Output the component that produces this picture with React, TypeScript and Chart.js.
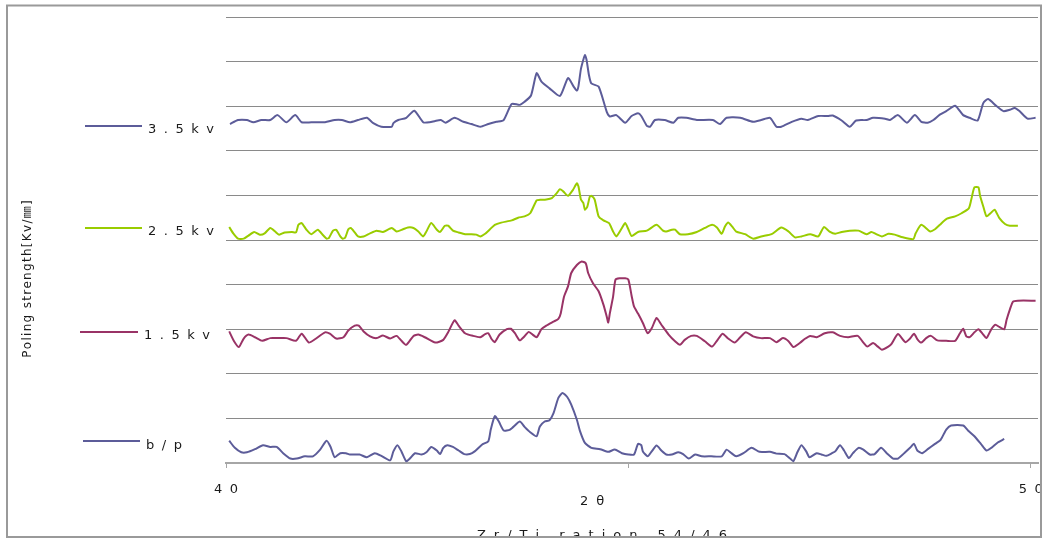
import React, { useEffect, useRef } from 'react';
import { Chart, registerables } from 'chart.js';

Chart.register(...registerables);

// ---- data ----
const xTickValues = [40, 45, 50];
const xTickLabels = ['40', '', '50'];
const seriesLabels = ['3.5kv', '2.5kv', '1.5kv', 'b/p'];
const xAxisTitle = '2θ';
const yAxisTitle = 'Poling strength[Kv/㎜]';
const bottomTitle = 'Zr/Ti ration 54/46';

const kv35: number[][] = [
  [40.05,7.60],[40.15,7.69],[40.26,7.69],[40.34,7.64],[40.44,7.69],[40.55,7.69],[40.64,7.80],[40.75,7.64],[40.86,7.80],[40.94,7.64],
  [41.06,7.64],[41.23,7.64],[41.35,7.69],[41.44,7.69],[41.54,7.64],[41.64,7.69],[41.75,7.74],[41.83,7.62],[41.93,7.54],[42.06,7.54],
  [42.08,7.62],[42.14,7.69],[42.24,7.74],[42.34,7.90],[42.45,7.64],[42.53,7.64],[42.60,7.67],[42.67,7.69],[42.73,7.63],[42.84,7.74],
  [42.95,7.65],[43.05,7.60],[43.16,7.54],[43.26,7.60],[43.36,7.65],[43.45,7.69],[43.55,8.05],[43.65,8.03],[43.71,8.10],[43.79,8.24],
  [43.86,8.74],[43.92,8.55],[44.02,8.40],[44.15,8.23],[44.25,8.63],[44.32,8.44],[44.36,8.35],[44.38,8.45],[44.41,8.83],[44.44,9.04],
  [44.46,9.15],[44.48,9.04],[44.51,8.70],[44.54,8.51],[44.63,8.44],[44.73,7.88],[44.77,7.77],[44.85,7.80],[44.96,7.63],[45.04,7.78],
  [45.12,7.84],[45.16,7.78],[45.23,7.56],[45.27,7.54],[45.33,7.69],[45.45,7.69],[45.56,7.63],[45.62,7.74],[45.72,7.74],[45.85,7.69],
  [46.05,7.69],[46.14,7.60],[46.22,7.74],[46.39,7.74],[46.55,7.65],[46.65,7.69],[46.76,7.74],[46.84,7.54],[46.90,7.54],[47.03,7.65],
  [47.15,7.72],[47.23,7.69],[47.36,7.78],[47.48,7.78],[47.54,7.79],[47.65,7.68],[47.75,7.54],[47.83,7.68],[47.96,7.69],[48.04,7.74],
  [48.19,7.72],[48.25,7.69],[48.35,7.80],[48.46,7.63],[48.56,7.80],[48.64,7.65],[48.72,7.63],[48.79,7.69],[48.87,7.81],[48.95,7.89],
  [49.06,8.01],[49.16,7.80],[49.24,7.74],[49.34,7.68],[49.41,8.07],[49.47,8.16],[49.57,8.01],[49.66,7.89],[49.74,7.92],[49.80,7.96],
  [49.86,7.89],[49.96,7.72],[50.06,7.74]
];

const kv25: number[][] = [
  [40.04,5.29],[40.09,5.15],[40.15,5.03],[40.22,5.03],[40.28,5.10],[40.35,5.18],[40.42,5.12],[40.48,5.15],[40.55,5.27],[40.61,5.19],
  [40.66,5.12],[40.73,5.17],[40.82,5.18],[40.87,5.17],[40.90,5.34],[40.94,5.38],[41.00,5.23],[41.06,5.13],[41.14,5.23],[41.21,5.10],
  [41.25,5.03],[41.28,5.05],[41.33,5.21],[41.37,5.23],[41.42,5.08],[41.45,5.03],[41.48,5.05],[41.52,5.24],[41.55,5.27],[41.60,5.17],
  [41.64,5.08],[41.71,5.08],[41.79,5.15],[41.87,5.21],[41.95,5.18],[42.06,5.27],[42.12,5.19],[42.20,5.24],[42.26,5.28],[42.33,5.27],
  [42.39,5.19],[42.45,5.08],[42.49,5.19],[42.55,5.38],[42.62,5.23],[42.66,5.18],[42.72,5.32],[42.76,5.32],[42.82,5.21],[42.89,5.17],
  [42.97,5.13],[43.05,5.13],[43.11,5.12],[43.16,5.08],[43.22,5.14],[43.28,5.24],[43.34,5.34],[43.42,5.39],[43.55,5.44],[43.63,5.50],
  [43.71,5.53],[43.78,5.60],[43.86,5.89],[43.90,5.90],[43.98,5.91],[44.05,5.94],[44.11,6.05],[44.15,6.14],[44.19,6.09],[44.25,5.99],
  [44.31,6.12],[44.36,6.27],[44.38,6.20],[44.41,5.91],[44.44,5.83],[44.46,5.68],[44.49,5.75],[44.52,5.97],[44.54,5.99],[44.58,5.91],
  [44.63,5.53],[44.69,5.44],[44.76,5.38],[44.81,5.19],[44.85,5.08],[44.92,5.27],[44.96,5.38],[45.00,5.24],[45.04,5.09],[45.12,5.18],
  [45.23,5.21],[45.35,5.34],[45.43,5.21],[45.47,5.19],[45.54,5.23],[45.58,5.23],[45.64,5.13],[45.74,5.13],[45.85,5.18],[45.95,5.27],
  [46.04,5.34],[46.10,5.28],[46.16,5.14],[46.20,5.30],[46.24,5.39],[46.29,5.30],[46.34,5.19],[46.45,5.13],[46.55,5.03],[46.65,5.08],
  [46.78,5.13],[46.90,5.28],[46.99,5.19],[47.07,5.06],[47.15,5.08],[47.26,5.13],[47.36,5.08],[47.43,5.29],[47.50,5.19],[47.57,5.14],
  [47.65,5.18],[47.75,5.21],[47.86,5.21],[47.96,5.13],[48.02,5.18],[48.08,5.13],[48.15,5.08],[48.23,5.14],[48.31,5.12],[48.41,5.06],
  [48.54,5.02],[48.57,5.15],[48.64,5.34],[48.75,5.19],[48.81,5.24],[48.87,5.34],[48.95,5.47],[49.06,5.53],[49.14,5.60],[49.23,5.71],
  [49.26,5.90],[49.30,6.18],[49.35,6.18],[49.37,5.99],[49.41,5.75],[49.45,5.53],[49.50,5.60],[49.55,5.68],[49.61,5.49],[49.68,5.36],
  [49.74,5.32],[49.84,5.32]
];

const kv15: number[][] = [
  [40.04,2.95],[40.10,2.73],[40.16,2.60],[40.22,2.79],[40.28,2.88],[40.36,2.82],[40.45,2.74],[40.55,2.80],[40.65,2.80],[40.75,2.80],
  [40.87,2.74],[40.94,2.90],[41.03,2.70],[41.11,2.78],[41.23,2.93],[41.29,2.90],[41.37,2.79],[41.46,2.82],[41.52,2.97],[41.60,3.08],
  [41.65,3.08],[41.71,2.95],[41.79,2.84],[41.87,2.80],[41.95,2.86],[42.04,2.79],[42.12,2.85],[42.18,2.74],[42.24,2.65],[42.33,2.85],
  [42.39,2.88],[42.47,2.82],[42.60,2.70],[42.70,2.76],[42.76,2.93],[42.84,3.20],[42.89,3.08],[42.97,2.91],[43.07,2.85],[43.16,2.82],
  [43.22,2.89],[43.26,2.91],[43.30,2.78],[43.34,2.71],[43.40,2.88],[43.49,3.00],[43.54,3.01],[43.59,2.91],[43.65,2.75],[43.71,2.84],
  [43.76,2.94],[43.81,2.88],[43.86,2.82],[43.92,3.00],[43.98,3.08],[44.07,3.17],[44.13,3.23],[44.16,3.36],[44.20,3.73],[44.25,3.96],
  [44.29,4.26],[44.36,4.44],[44.42,4.52],[44.47,4.48],[44.50,4.26],[44.56,4.03],[44.63,3.85],[44.69,3.55],[44.73,3.29],[44.75,3.15],
  [44.77,3.36],[44.81,3.73],[44.84,4.11],[44.89,4.14],[44.96,4.14],[45.00,4.11],[45.04,3.75],[45.07,3.51],[45.12,3.35],[45.18,3.14],
  [45.24,2.91],[45.29,3.02],[45.35,3.25],[45.41,3.10],[45.50,2.88],[45.58,2.73],[45.64,2.65],[45.70,2.76],[45.78,2.85],[45.85,2.85],
  [45.95,2.73],[46.04,2.61],[46.10,2.74],[46.17,2.90],[46.24,2.79],[46.32,2.70],[46.39,2.82],[46.46,2.93],[46.55,2.84],[46.65,2.80],
  [46.76,2.80],[46.84,2.71],[46.92,2.80],[46.99,2.73],[47.05,2.60],[47.13,2.69],[47.19,2.78],[47.26,2.85],[47.34,2.82],[47.44,2.91],
  [47.54,2.93],[47.63,2.85],[47.73,2.82],[47.85,2.85],[47.92,2.70],[47.97,2.61],[48.04,2.69],[48.10,2.61],[48.15,2.54],[48.23,2.61],
  [48.27,2.67],[48.35,2.89],[48.44,2.71],[48.50,2.79],[48.55,2.90],[48.59,2.78],[48.64,2.70],[48.70,2.80],[48.76,2.85],[48.84,2.75],
  [48.95,2.74],[49.06,2.74],[49.12,2.91],[49.16,3.01],[49.20,2.84],[49.24,2.82],[49.30,2.93],[49.35,3.00],[49.40,2.90],[49.45,2.80],
  [49.51,3.00],[49.56,3.10],[49.61,3.05],[49.67,3.00],[49.70,3.21],[49.74,3.44],[49.78,3.62],[49.84,3.64],[50.06,3.64]
];

const bp: number[][] = [
  [40.04,0.50],[40.11,0.34],[40.19,0.24],[40.26,0.24],[40.36,0.31],[40.46,0.40],[40.55,0.36],[40.63,0.36],[40.71,0.22],[40.80,0.10],
  [40.88,0.10],[40.98,0.15],[41.08,0.15],[41.17,0.30],[41.25,0.50],[41.30,0.36],[41.35,0.13],[41.42,0.22],[41.49,0.22],[41.54,0.19],
  [41.66,0.19],[41.75,0.13],[41.85,0.22],[41.93,0.16],[42.04,0.06],[42.08,0.26],[42.13,0.40],[42.18,0.26],[42.24,0.04],[42.29,0.11],
  [42.35,0.22],[42.43,0.19],[42.49,0.24],[42.55,0.36],[42.62,0.28],[42.66,0.20],[42.70,0.34],[42.75,0.40],[42.82,0.36],[42.89,0.28],
  [42.96,0.20],[43.03,0.20],[43.09,0.26],[43.18,0.41],[43.26,0.49],[43.29,0.75],[43.34,1.05],[43.39,0.93],[43.45,0.73],[43.53,0.75],
  [43.65,0.93],[43.71,0.81],[43.78,0.69],[43.86,0.60],[43.90,0.82],[43.96,0.93],[44.02,0.96],[44.07,1.12],[44.13,1.46],[44.18,1.57],
  [44.24,1.48],[44.29,1.31],[44.36,0.97],[44.40,0.71],[44.46,0.45],[44.54,0.34],[44.65,0.31],[44.75,0.25],[44.83,0.30],[44.92,0.22],
  [45.00,0.19],[45.07,0.19],[45.12,0.43],[45.16,0.40],[45.18,0.26],[45.24,0.15],[45.29,0.26],[45.35,0.39],[45.41,0.28],[45.47,0.19],
  [45.54,0.19],[45.62,0.24],[45.68,0.20],[45.75,0.10],[45.83,0.19],[45.91,0.15],[46.03,0.15],[46.16,0.15],[46.22,0.30],[46.28,0.22],
  [46.34,0.15],[46.43,0.22],[46.53,0.34],[46.63,0.25],[46.76,0.25],[46.84,0.21],[46.94,0.20],[47.01,0.10],[47.05,0.04],[47.10,0.24],
  [47.15,0.40],[47.21,0.26],[47.25,0.13],[47.34,0.22],[47.40,0.19],[47.46,0.16],[47.53,0.22],[47.57,0.26],[47.63,0.40],[47.68,0.28],
  [47.74,0.11],[47.79,0.22],[47.86,0.34],[47.92,0.30],[48.00,0.19],[48.06,0.20],[48.14,0.34],[48.21,0.22],[48.29,0.10],[48.35,0.10],
  [48.44,0.24],[48.50,0.34],[48.55,0.43],[48.59,0.28],[48.65,0.22],[48.72,0.31],[48.81,0.43],[48.88,0.52],[48.95,0.75],[49.01,0.84],
  [49.16,0.84],[49.22,0.73],[49.30,0.60],[49.38,0.43],[49.45,0.28],[49.51,0.34],[49.59,0.46],[49.67,0.54]
];

const seriesData = [kv35, kv25, kv15, bp];
const seriesColors = ['#5c5c99', '#99cc00', '#993366', '#5c5c99'];

// ---- helpers ----
function drawSpaced(ctx: CanvasRenderingContext2D, text: string, x: number, y: number, spacing: number, align: 'left' | 'center' | 'right') {
  const chars = Array.from(text);
  const widths = chars.map((c) => ctx.measureText(c).width);
  const total = widths.reduce((a, b) => a + b, 0) + spacing * (chars.length - 1);
  let cx = align === 'center' ? x - total / 2 : align === 'right' ? x - total : x;
  ctx.textAlign = 'left';
  chars.forEach((c, i) => {
    ctx.fillText(c, cx, y);
    cx += widths[i] + spacing;
  });
}

const FONT = '"DejaVu Sans", "Noto Sans CJK KR", sans-serif';
const TEXT_COLOR = '#1a1a1a';

// legend layout: [lineStartX, lineEndX, lineY, textX, textY]
const legendLayout = [
  [85, 142, 126, 148, 130],
  [85, 142, 228, 148, 232],
  [80, 138, 332, 144, 336],
  [83, 140, 441, 146, 446],
];

const decorPlugin = {
  id: 'decor',
  beforeDraw(chart: any) {
    const { ctx, width, height } = chart;
    ctx.save();
    ctx.fillStyle = '#ffffff';
    ctx.fillRect(0, 0, width, height);
    ctx.restore();
  },
  afterDraw(chart: any) {
    const { ctx, width, height } = chart;
    const xs = chart.scales.x;
    ctx.save();
    ctx.fillStyle = TEXT_COLOR;
    ctx.textBaseline = 'middle';
    ctx.font = `13px ${FONT}`;
    // x tick labels
    xTickValues.forEach((v, i) => {
      const lbl = xTickLabels[i];
      if (!lbl) return;
      drawSpaced(ctx, lbl, xs.getPixelForValue(v), 490, 7.5, 'center');
    });
    // x axis title
    drawSpaced(ctx, xAxisTitle, 592, 502, 8, 'center');
    // bottom title
    ctx.textBaseline = 'alphabetic';
    drawSpaced(ctx, bottomTitle, 602, 539, 8, 'center');
    // y axis title
    ctx.save();
    ctx.translate(28, 279);
    ctx.rotate(-Math.PI / 2);
    ctx.textBaseline = 'middle';
    ctx.font = `12px ${FONT}`;
    drawSpaced(ctx, yAxisTitle, 0, 0, 1.3, 'center');
    ctx.restore();
    // legend
    ctx.textBaseline = 'middle';
    ctx.font = `13px ${FONT}`;
    chart.data.datasets.forEach((ds: any, i: number) => {
      const [x1, x2, ly, tx, ty] = legendLayout[i];
      ctx.strokeStyle = ds.borderColor;
      ctx.lineWidth = 2;
      ctx.beginPath();
      ctx.moveTo(x1, ly);
      ctx.lineTo(x2, ly);
      ctx.stroke();
      ctx.fillStyle = TEXT_COLOR;
      drawSpaced(ctx, ds.label, tx, ty, 7.5, 'left');
    });
    // outer frame
    ctx.fillStyle = '#ffffff';
    ctx.fillRect(0, 538, width, height - 538);
    ctx.strokeStyle = '#9a9a9a';
    ctx.lineWidth = 2;
    ctx.strokeRect(7, 5.5, 1034, 531.5);
    ctx.restore();
  },
};

export default function App() {
  const canvasRef = useRef<HTMLCanvasElement | null>(null);

  useEffect(() => {
    const canvas = canvasRef.current;
    if (!canvas) return;
    const chart = new Chart(canvas, {
      type: 'line',
      data: {
        datasets: seriesData.map((pts, i) => ({
          label: seriesLabels[i],
          data: pts.map(([x, y]) => ({ x, y })),
          borderColor: seriesColors[i],
          backgroundColor: seriesColors[i],
          borderWidth: 2,
          pointRadius: 0,
          tension: 0.2,
          fill: false,
        })),
      },
      options: {
        animation: false,
        responsive: false,
        devicePixelRatio: 1,
        layout: { padding: { left: 226, right: 5, top: 17, bottom: 0 } },
        plugins: {
          legend: { display: false },
          tooltip: { enabled: false },
          title: { display: false },
        },
        scales: {
          x: {
            type: 'linear',
            min: 40,
            max: 50.09,
            afterBuildTicks: (s: any) => {
              s.ticks = xTickValues.map((v) => ({ value: v }));
            },
            afterFit: (s: any) => {
              s.height = 80;
            },
            ticks: { display: false },
            grid: {
              display: true,
              drawOnChartArea: false,
              drawTicks: true,
              tickLength: 5,
              color: '#a6a6a6',
              lineWidth: 1,
            },
            border: { display: true, color: '#a6a6a6', width: 2 },
          },
          y: {
            type: 'linear',
            min: 0,
            max: 10,
            ticks: { display: false, stepSize: 1 },
            afterFit: (s: any) => {
              s.width = 0;
            },
            grid: { drawTicks: false, color: '#8a8a8a', lineWidth: 1 },
            border: { display: false },
          },
        },
      } as any,
      plugins: [decorPlugin],
    });
    return () => chart.destroy();
  }, []);

  return (
    <div style={{ position: 'absolute', left: 0, top: 0, width: 1043, height: 543, background: '#fff' }}>
      <canvas ref={canvasRef} width={1043} height={543} style={{ display: 'block', width: 1043, height: 543 }} />
    </div>
  );
}
